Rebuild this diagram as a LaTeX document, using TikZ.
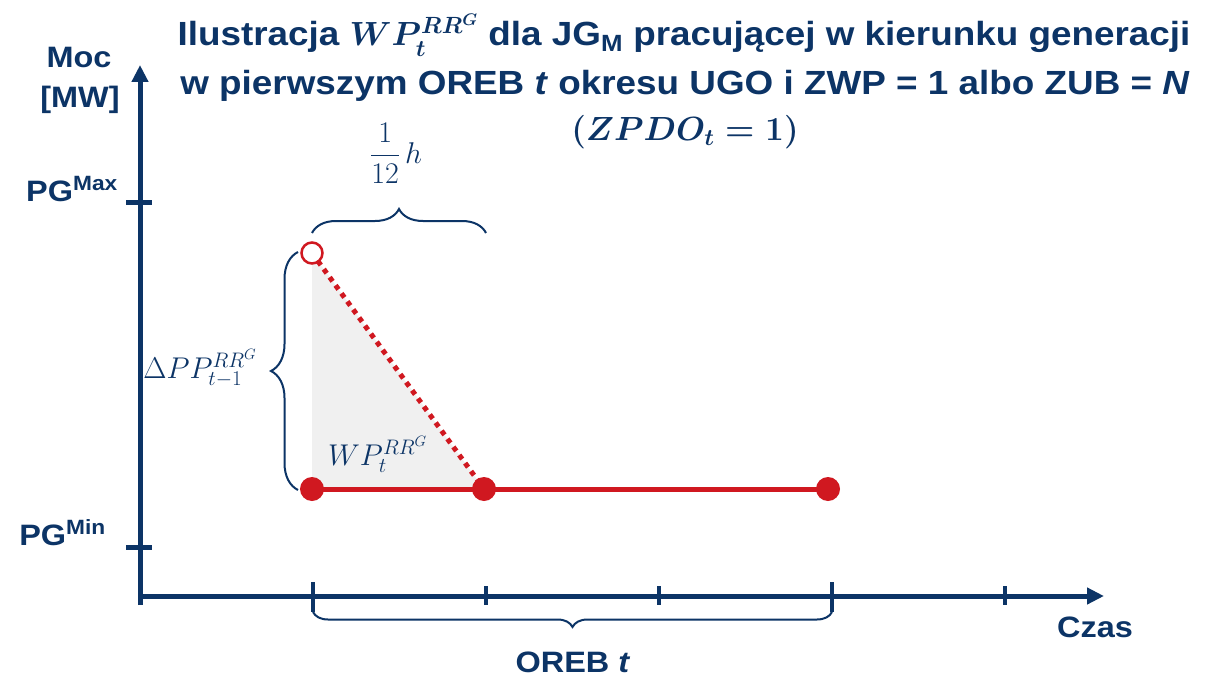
\RequirePackage{fix-cm}
\documentclass[tikz,border=0pt]{standalone}
\usepackage[no-math]{fontspec}
\setmainfont{Liberation Sans}[FakeStretch=1.1]
\usetikzlibrary{decorations.pathreplacing,arrows.meta}
\definecolor{navy}{RGB}{12,52,102}
\definecolor{myred}{RGB}{208,24,32}
\definecolor{lgray}{RGB}{240,240,240}
\tikzset{
  axisline/.style={draw=navy, line width=5pt},
  tickline/.style={draw=navy, line width=4pt},
  bracestyle/.style={draw=navy, line width=2pt, decorate, decoration={brace, amplitude=#1}},
  redline/.style={draw=myred, line width=5pt},
  dotline/.style={draw=myred, line width=5pt, dash pattern=on 5pt off 5pt},
  filldot/.style={circle, fill=myred, inner sep=0pt, minimum size=24pt},
  opendot/.style={circle, draw=myred, fill=white, line width=2.5pt, inner sep=0pt, minimum size=21pt},
  lbl/.style={text=navy, inner sep=0pt, font=\fontsize{29.5}{34}\selectfont\bfseries},
  titlelbl/.style={text=navy, inner sep=0pt, font=\fontsize{33.5}{40}\selectfont\bfseries\boldmath},
  mathlbl/.style={text=navy, inner sep=0pt, font=\fontsize{30}{36}\selectfont}
}
\begin{document}
\begin{tikzpicture}[x=1pt,y=-1pt]
\useasboundingbox[fill=white] (0,0) rectangle (1221,677);

% axes
\coordinate (ytop) at (140,65);
\coordinate (ybot) at (140,605);
\coordinate (xleft) at (140,596);
\coordinate (xend) at (1104,596);
\draw[axisline, -{Triangle[length=17pt,width=16pt]}] (ybot) -- (ytop);
\draw[axisline, -{Triangle[length=17pt,width=16pt]}] (xleft) -- (xend);

% y ticks
\coordinate (ymaxA) at (126,202); \coordinate (ymaxB) at (152,202);
\coordinate (yminA) at (126,547); \coordinate (yminB) at (152,547);
\draw[tickline, line width=5pt] (ymaxA) -- (ymaxB);
\draw[tickline, line width=5pt] (yminA) -- (yminB);

% x ticks
\coordinate (t1a) at (313,582); \coordinate (t1b) at (313,612);
\coordinate (t2a) at (486,586); \coordinate (t2b) at (486,605);
\coordinate (t3a) at (659,586); \coordinate (t3b) at (659,605);
\coordinate (t4a) at (832,582); \coordinate (t4b) at (832,612);
\coordinate (t5a) at (1005,586); \coordinate (t5b) at (1005,605);
\foreach \i in {1,...,5} {\draw[tickline] (t\i a) -- (t\i b);}

% axis labels
\node[lbl, anchor=base] (moc) at (79,68) {Moc};
\node[lbl, anchor=base] (mw) at (80,107) {[MW]};
\node[lbl, anchor=base east] (pgmax) at (118,201) {PG\textsuperscript{Max}};
\node[lbl, anchor=base east] (pgmin) at (106,545) {PG\textsuperscript{Min}};
\node[lbl, anchor=base west] (czas) at (1057,637) {Czas};
\node[lbl, anchor=base] (oreb) at (573,672) {OREB \textit{t}};

% title
\node[titlelbl, anchor=base] (title1) at (684,46) {Ilustracja $WP_t^{RR^G}$\ dla JG\textsubscript{M} pracującej w kierunku generacji};
\node[titlelbl, anchor=base] (title2) at (685,95) {w pierwszym OREB \textit{t} okresu UGO i ZWP = 1 albo ZUB = \textit{N}};
\node[titlelbl, anchor=base] (title3) at (685,140) {$(ZPDO_t = 1)$};

% points
\coordinate (c1) at (312,489);
\coordinate (c2) at (484,489);
\coordinate (c3) at (828,489);
\coordinate (c0) at (312,253);

\fill[lgray] (c0) -- (c1) -- (c2) -- cycle;
\draw[redline] (c1) -- (c3);
\draw[dotline] (c0) -- (c2);

\node[filldot] (p1) at (c1) {};
\node[filldot] (p2) at (c2) {};
\node[filldot] (p3) at (c3) {};
\node[opendot] (p0) at (c0) {};

% braces
\coordinate (lbA) at (298,490);
\coordinate (lbB) at (298,252);
\draw[bracestyle=27pt] (lbA) -- (lbB);
\coordinate (tbA) at (312,233);
\coordinate (tbB) at (486,233);
\draw[bracestyle=24pt] (tbA) -- (tbB);
\coordinate (bbA) at (832,612);
\coordinate (bbB) at (313,612);
\draw[bracestyle=15pt] (bbA) -- (bbB);

% math labels
\node[mathlbl, anchor=base east] (dpp) at (257,378) {$\Delta PP_{t-1}^{RR^G}$};
\node[mathlbl, anchor=base west] (wp) at (328,465) {$WP_t^{RR^G}$};
\node[mathlbl, anchor=base west] (frac) at (370,163) {$\displaystyle\frac{1}{12}\,h$};
\end{tikzpicture}
\end{document}
